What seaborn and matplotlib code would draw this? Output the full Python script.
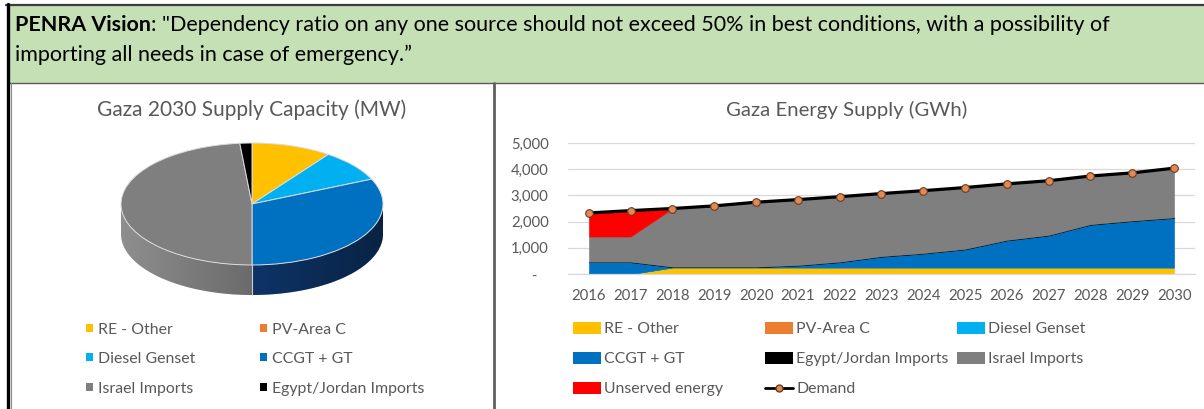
import numpy as np
import pandas as pd
import matplotlib
matplotlib.use("Agg")
import matplotlib.pyplot as plt
import seaborn as sns
from matplotlib.patches import Rectangle, Patch, Polygon
from matplotlib.lines import Line2D

# ---------------- data ----------------
years = [2016, 2017, 2018, 2019, 2020, 2021, 2022, 2023, 2024, 2025, 2026, 2027, 2028, 2029, 2030]

re_other = [0, 0, 250, 250, 250, 250, 250, 250, 250, 250, 250, 250, 250, 250, 250]
pv_area_c = [0, 0, 0, 0, 0, 0, 0, 0, 0, 0, 0, 0, 0, 0, 0]
diesel_genset = [0, 0, 0, 0, 0, 0, 0, 0, 0, 0, 0, 0, 0, 0, 0]
ccgt_gt = [450, 450, 10, 10, 10, 70, 200, 410, 530, 690, 1030, 1220, 1630, 1770, 1890]
egypt_jordan = [20, 20, 20, 20, 20, 20, 20, 20, 20, 20, 20, 20, 20, 20, 20]
israel_imports = [960, 960, 2220, 2320, 2460, 2500, 2480, 2390, 2380, 2340, 2140, 2070, 1840, 1820, 1880]
unserved = [900, 990, 0, 0, 0, 0, 0, 0, 0, 0, 0, 0, 0, 0, 0]
demand = [2330, 2420, 2500, 2600, 2740, 2840, 2950, 3070, 3180, 3300, 3440, 3560, 3740, 3860, 4040]

y_ticks = [0, 1000, 2000, 3000, 4000, 5000]
y_tick_labels = ["-   ", "1,000", "2,000", "3,000", "4,000", "5,000"]

# 2030 capacity mix (MW)
cap_labels = ["RE - Other", "PV-Area C", "Diesel Genset", "CCGT + GT", "Israel Imports", "Egypt/Jordan Imports"]
cap_values = [100, 0, 85, 320, 490, 15]

banner_bold = "PENRA Vision"
banner_line1 = ': "Dependency ratio on any one source should not exceed 50% in best conditions, with a possibility of'
banner_line2 = "importing all needs in case of emergency.\u201d"

# ---------------- style ----------------
C_RE = "#FFC000"
C_PV = "#ED7D31"
C_DIESEL = "#00B0F0"
C_CCGT = "#0070C0"
C_EJ = "#000000"
C_ISRAEL = "#7F7F7F"
C_UNSERVED = "#FF0000"
TXT = "#595959"

sns.set_theme(style="white")
plt.rcParams["font.family"] = ["Lato", "DejaVu Sans"]

W, H = 1204, 409


def fx(px):
    return px / W


def fy(py):
    return 1 - py / H


fig = plt.figure(figsize=(W / 100, H / 100), dpi=100)
fig.patch.set_facecolor("white")
renderer = fig.canvas.get_renderer()

# ---------------- frame & banner ----------------
fig.add_artist(Rectangle((fx(8), fy(83)), fx(W) - fx(8), fy(5) - fy(83),
                         transform=fig.transFigure, facecolor="#C5E0B4", edgecolor="none", zorder=0))
fig.add_artist(Line2D([fx(6), fx(W)], [fy(4.5), fy(4.5)], transform=fig.transFigure,
                      color="#3c3c3c", lw=1.6))
fig.add_artist(Line2D([fx(8), fx(W)], [fy(83), fy(83)], transform=fig.transFigure,
                      color="#5a5a5a", lw=1.0))
fig.add_artist(Line2D([fx(7.5), fx(7.5)], [fy(3.5), fy(H)], transform=fig.transFigure,
                      color="black", lw=2.4))
fig.add_artist(Line2D([fx(10.5), fx(10.5)], [fy(83), fy(H)], transform=fig.transFigure,
                      color="#8a8a8a", lw=0.8))
fig.add_artist(Line2D([fx(494), fx(494)], [fy(83), fy(H)], transform=fig.transFigure,
                      color="#5f5f5f", lw=2.0))

# banner text, sized so the first line spans the banner width
BANNER_X0, BANNER_X1 = 15, 1108
probe_a = fig.text(0, 0, banner_bold, fontsize=10, fontweight="bold")
probe_b = fig.text(0, 0, banner_line1, fontsize=10)
w10 = probe_a.get_window_extent(renderer).width + probe_b.get_window_extent(renderer).width
probe_a.remove()
probe_b.remove()
BANNER_FS = 10 * (BANNER_X1 - BANNER_X0) / w10

t1 = fig.text(fx(BANNER_X0), fy(31), banner_bold, fontsize=BANNER_FS, fontweight="bold",
              color="black", va="baseline", ha="left")
bb = t1.get_window_extent(renderer)
fig.text(bb.x1 / W, fy(31), banner_line1, fontsize=BANNER_FS, color="black",
         va="baseline", ha="left")
fig.text(fx(BANNER_X0), fy(61), banner_line2, fontsize=BANNER_FS, color="black",
         va="baseline", ha="left")

# ---------------- titles ----------------
fig.text(fx(252), fy(110), "Gaza 2030 Supply Capacity (MW)", fontsize=15, color=TXT,
         ha="center", va="center")
fig.text(fx(847), fy(110), "Gaza Energy Supply (GWh)", fontsize=14.7, color=TXT,
         ha="center", va="center")

# ---------------- 3D-style pie ----------------
cx, cy, rx, ry = 252, 204, 131, 61
depth = 30 / ry
ax1_top, ax1_bot = 140, 300
axp = fig.add_axes([fx(cx - rx), fy(ax1_bot), 2 * rx / W, (ax1_bot - ax1_top) / H])
pie_colors = [C_RE, C_PV, C_DIESEL, C_CCGT, C_ISRAEL, C_EJ]
side_colors = {C_CCGT: "#124588", C_ISRAEL: "#8E8E8E", C_RE: "#a07800", C_DIESEL: "#006f99",
               C_PV: "#9a4f1c", C_EJ: "#000000"}

wedges, _ = axp.pie(cap_values, colors=pie_colors, startangle=90, counterclock=False,
                    wedgeprops=dict(linewidth=0.7, edgecolor="#dcdcdc"))
for w in wedges:
    w.set_zorder(5)

# side walls for the front half of each slice, shaded left to right
grad = np.linspace(0, 1, 256).reshape(1, -1)
shade = matplotlib.colors.ListedColormap(["black"])
for w, col in zip(wedges, pie_colors):
    th = np.radians(np.linspace(w.theta1, w.theta2, 400))
    front = np.sin(th) <= 1e-9
    if front.sum() < 2:
        continue
    idx = np.where(front)[0]
    runs = np.split(idx, np.where(np.diff(idx) > 1)[0] + 1)
    for run in runs:
        t = th[run]
        top = np.column_stack([np.cos(t), np.sin(t)])
        bot = np.column_stack([np.cos(t[::-1]), np.sin(t[::-1]) - depth])
        poly = Polygon(np.vstack([top, bot]), closed=True, facecolor=side_colors[col],
                       edgecolor="none", zorder=2)
        axp.add_patch(poly)
        im = axp.imshow(grad, extent=(-1, 1, -1 - depth, 0.05), cmap=shade,
                        alpha=grad * 0.5, aspect="auto", zorder=3, interpolation="bilinear")
        im.set_clip_path(poly)

# seams between adjacent side walls
bounds = [w.theta1 for w in wedges] + [wedges[-1].theta2]
for b in bounds:
    s = np.sin(np.radians(b))
    if s < -1e-6:
        x0 = np.cos(np.radians(b))
        axp.plot([x0, x0], [s, s - depth], color="#cfcfcf", lw=0.8, zorder=4)

axp.set_aspect("auto")
axp.set_xlim(-1, 1)
axp.set_ylim(-(ax1_bot - cy) / ry, (cy - ax1_top) / ry)
axp.axis("off")

# ---------------- stacked area chart ----------------
ax = fig.add_axes([fx(568), fy(274), (1195 - 568) / W, (274 - 143) / H])
layers = [re_other, pv_area_c, diesel_genset, ccgt_gt, egypt_jordan, israel_imports, unserved]
layer_colors = [C_RE, C_PV, C_DIESEL, C_CCGT, C_EJ, C_ISRAEL, C_UNSERVED]
polys = ax.stackplot(years, *layers, colors=layer_colors, linewidth=0.4, zorder=2)
for p, c in zip(polys, layer_colors):
    p.set_edgecolor(c)

df = pd.DataFrame({"year": years, "demand": demand})
sns.lineplot(data=df, x="year", y="demand", ax=ax, color="black", lw=2.3, marker="o",
             markersize=5.5, markerfacecolor="#E08A55", markeredgecolor="#6b3a1e",
             markeredgewidth=0.8, zorder=5)

ax.set_xlim(years[0] - 0.5, years[-1] + 0.5)
ax.set_ylim(0, 5000)
ax.set_yticks(y_ticks)
ax.set_yticklabels(y_tick_labels)
ax.set_xticks(years)
ax.set_xticklabels([str(y) for y in years])
ax.set_xticks([y - 0.5 for y in years] + [years[-1] + 0.5], minor=True)
ax.tick_params(axis="x", which="major", length=0, pad=11, labelsize=10.7, labelcolor=TXT)
ax.tick_params(axis="x", which="minor", length=3, width=0.8, color="#D9D9D9", direction="out")
ax.tick_params(axis="y", length=0, pad=14, labelsize=10.7, labelcolor=TXT)
ax.set_xlabel("")
ax.set_ylabel("")
ax.grid(axis="y", color="#D9D9D9", lw=0.9, zorder=0)
ax.set_axisbelow(True)
for s in ["top", "right", "left"]:
    ax.spines[s].set_visible(False)
ax.spines["bottom"].set_color("#D9D9D9")
ax.spines["bottom"].set_linewidth(0.9)
ax.set_facecolor("none")

# ---------------- legends ----------------
LEG_FS = 11.4


def legend_item(handle, label, x, y, hl, hh, pad):
    fig.legend([handle], [label], loc="center left", bbox_to_anchor=(fx(x), fy(y)),
               frameon=False, fontsize=LEG_FS, labelcolor=TXT, handlelength=hl,
               handleheight=hh, handletextpad=pad, borderpad=0, borderaxespad=0)


em = LEG_FS * 100 / 72
# pie legend: two columns of small squares
pie_rows = [330, 359, 389]
pie_cols = [86, 260]
pie_order = [(0, 0), (0, 1), (1, 0), (1, 1), (2, 0), (2, 1)]
for (r, c), lab, col in zip(pie_order, cap_labels, pie_colors):
    legend_item(Patch(facecolor=col, edgecolor="none"), lab, pie_cols[c], pie_rows[r],
                6.5 / em, 6.5 / em, 6 / em)

# area legend: three columns of wide swatches
area_rows = [329, 359, 389]
area_cols = [573, 765, 957]
area_entries = [
    ("RE - Other", C_RE, 0, 0), ("PV-Area C", C_PV, 0, 1), ("Diesel Genset", C_DIESEL, 0, 2),
    ("CCGT + GT", C_CCGT, 1, 0), ("Egypt/Jordan Imports", C_EJ, 1, 1), ("Israel Imports", C_ISRAEL, 1, 2),
    ("Unserved energy", C_UNSERVED, 2, 0),
]
for lab, col, r, c in area_entries:
    legend_item(Patch(facecolor=col, edgecolor="none"), lab, area_cols[c], area_rows[r],
                28 / em, 12 / em, 3 / em)
legend_item(Line2D([0], [0], color="black", lw=2, marker="o", markersize=5,
                   markerfacecolor="#E08A55", markeredgecolor="#6b3a1e"),
            "Demand", area_cols[1], area_rows[2], 28 / em, 12 / em, 3 / em)

fig.savefig("out.png", dpi=100)
